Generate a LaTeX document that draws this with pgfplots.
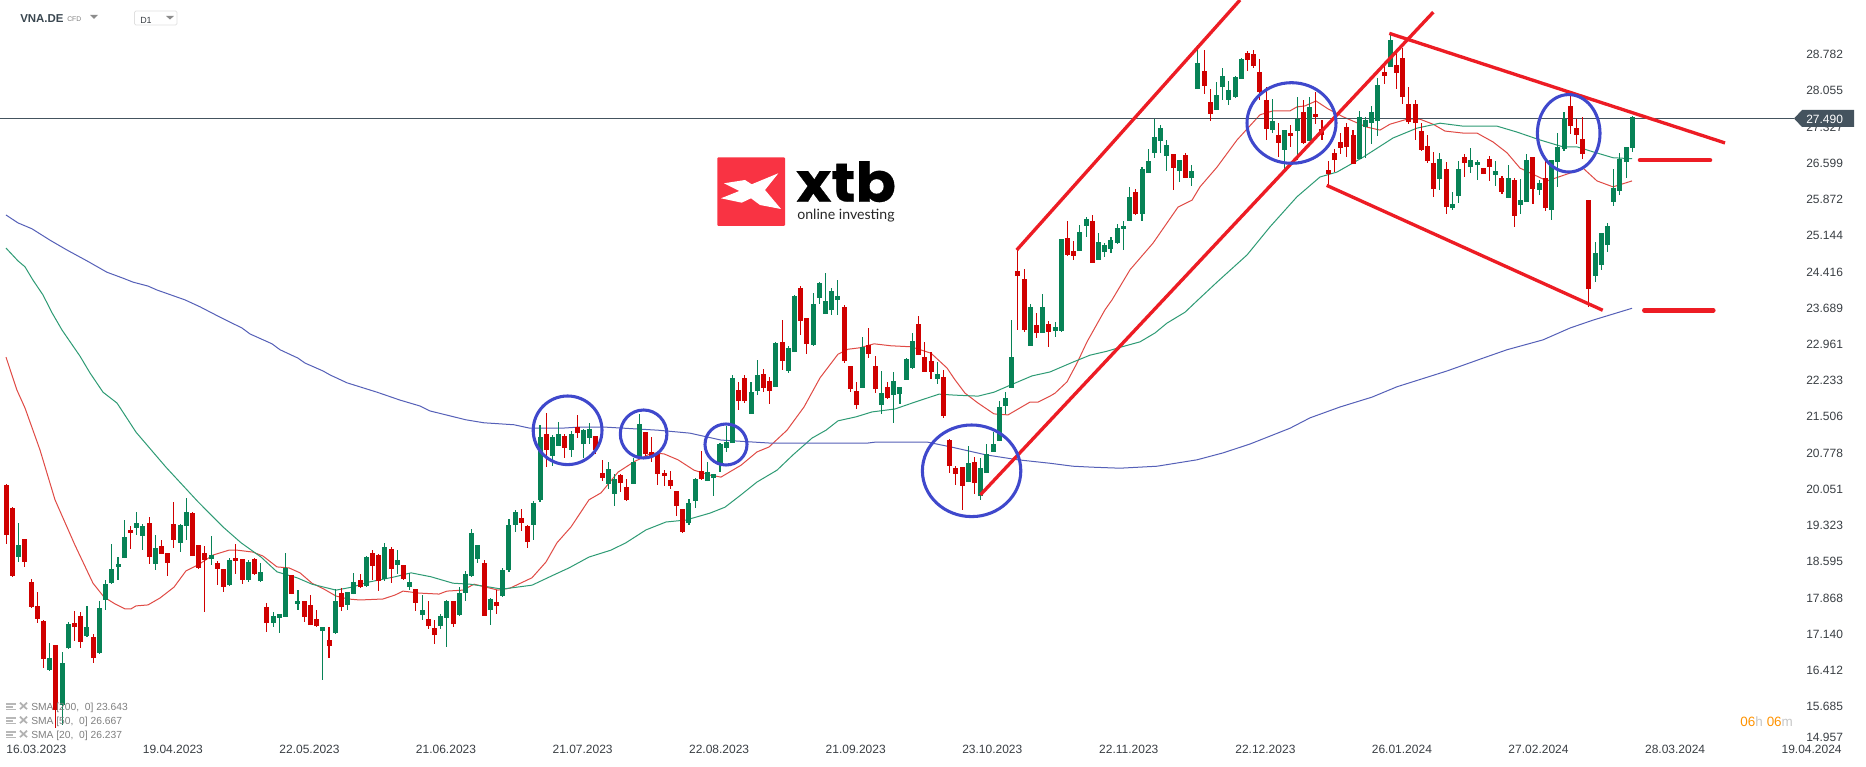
\documentclass[border=0pt]{standalone}
\usepackage{pgfplots}
\usepackage{pgfplotstable}
\usepackage{fontspec}
\usepackage{graphicx}
\pgfplotsset{compat=1.18}
\setmainfont{Liberation Sans}
\newfontfamily\logofont[BoldFeatures={FakeBold=0.5}]{Poppins}
\newfontfamily\logosub{Lato}
\definecolor{cup}{HTML}{078256}
\definecolor{cdn}{HTML}{D00000}
\definecolor{sred}{HTML}{E04A45}
\definecolor{sgreen}{HTML}{2E9B74}
\definecolor{sblue}{HTML}{5560B8}
\definecolor{trend}{HTML}{ED1C24}
\definecolor{ring}{HTML}{3F48CC}
\definecolor{pricebg}{HTML}{44535E}
\definecolor{logored}{HTML}{F93343}
\definecolor{ticktxt}{HTML}{3A3F44}
\definecolor{headtxt}{HTML}{3A4750}
% columns: candle index, high, body top, body bottom, low
\pgfplotstableread{
i h t b l
0 20.09 20.06 19.05 18.86
1 19.62 19.59 18.22 18.19
3 18.96 18.96 18.50 18.40
4 18.15 18.09 17.59 17.56
5 17.89 17.61 17.35 17.26
6 17.33 17.30 16.53 16.35
8 16.82 16.82 15.50 15.14
11 17.50 17.26 17.18 16.90
12 17.48 17.41 16.88 16.76
14 17.04 16.98 16.55 16.45
20 19.23 19.15 19.09 18.76
23 19.41 19.29 18.60 18.45
25 18.95 18.83 18.66 18.66
26 18.68 18.68 18.48 18.22
27 19.72 19.27 18.95 18.79
30 19.51 19.49 18.62 18.62
31 18.84 18.84 18.38 18.37
32 18.82 18.68 18.54 17.49
34 18.52 18.48 18.36 18.03
35 18.36 18.36 18.00 17.89
37 18.86 18.58 18.52 18.26
38 18.56 18.56 18.14 18.06
40 18.58 18.56 18.26 18.24
42 17.67 17.59 17.26 17.08
46 18.24 18.24 17.85 17.85
48 17.71 17.71 17.39 17.29
49 17.83 17.63 17.22 17.22
50 17.53 17.35 17.20 17.18
52 17.18 16.92 16.80 16.56
54 17.97 17.87 17.59 17.51
57 18.26 18.14 17.99 17.97
59 18.74 18.68 18.42 18.14
60 18.66 18.64 18.11 17.91
62 18.80 18.76 18.36 18.07
64 18.44 18.44 18.16 18.14
66 17.95 17.95 17.67 17.51
68 17.71 17.35 17.20 17.14
69 17.33 17.16 17.02 16.84
72 17.71 17.70 17.24 17.18
77 18.54 18.48 17.41 17.41
79 17.93 17.69 17.61 17.45
83 19.57 19.39 19.29 19.13
84 19.25 19.23 18.90 18.78
87 21.52 21.09 20.77 20.42
90 21.09 21.05 20.81 20.61
92 21.48 21.23 21.11 21.01
95 21.05 21.05 20.77 20.69
96 20.57 20.30 20.20 20.14
99 20.28 20.26 20.10 19.92
100 20.18 20.02 19.76 19.74
103 21.13 21.13 20.69 20.65
104 21.03 20.73 20.63 20.53
105 20.70 20.69 20.28 20.06
106 20.36 20.30 20.24 20.04
107 20.34 20.16 20.04 19.98
108 19.94 19.94 19.64 19.43
109 19.57 19.57 19.11 19.10
112 20.75 20.34 20.18 20.16
118 22.14 21.99 21.76 21.58
119 22.28 22.23 21.76 21.72
122 22.41 22.31 22.03 21.94
123 22.25 22.17 21.96 21.70
125 23.40 22.96 22.57 22.39
128 24.09 24.05 23.38 23.10
129 23.44 23.44 22.92 22.71
135 23.71 23.67 22.57 22.53
136 22.47 22.47 22.00 21.94
137 22.15 21.96 21.68 21.60
139 23.24 22.90 22.71 22.63
140 22.67 22.47 22.00 21.92
142 22.15 22.05 21.82 21.80
147 23.48 23.32 22.69 22.69
148 22.96 22.65 22.35 22.35
149 22.75 22.57 22.35 22.21
151 22.39 22.25 21.46 21.42
152 20.99 20.97 20.45 20.30
153 20.45 20.40 20.28 20.06
154 20.42 20.42 20.04 19.55
156 20.63 20.53 20.10 19.88
163 24.82 24.39 24.29 23.20
164 24.44 24.23 23.20 23.16
166 23.54 23.30 23.14 23.04
168 23.38 23.32 23.16 22.86
171 25.41 25.06 24.72 24.70
172 25.00 24.80 24.70 24.62
175 25.53 25.41 24.56 24.56
182 26.06 26.00 25.55 25.53
188 26.77 26.77 26.48 26.04
190 26.79 26.75 26.28 26.28
193 28.87 28.45 28.14 27.98
194 28.08 27.82 27.58 27.43
200 28.85 28.81 28.67 28.45
201 28.87 28.79 28.55 28.51
202 28.69 28.43 28.02 27.86
203 28.12 27.86 27.27 27.05
205 27.39 27.15 26.99 26.71
207 27.35 27.19 27.13 26.91
209 27.86 27.62 26.99 26.97
211 28.02 27.58 27.52 27.37
212 27.45 27.27 27.15 27.05
213 26.62 26.44 26.36 26.14
214 26.87 26.79 26.64 26.40
215 27.19 27.01 26.89 26.77
216 27.39 27.31 26.91 26.71
217 27.25 27.15 26.56 26.56
222 28.55 28.43 28.35 28.18
224 28.81 28.57 28.41 28.08
225 28.91 28.71 27.92 27.78
226 28.12 27.78 27.41 27.37
227 27.86 27.78 27.39 27.05
228 27.39 27.23 26.85 26.83
229 27.15 26.93 26.62 26.58
230 26.81 26.58 26.06 25.90
232 26.60 26.46 25.69 25.55
235 26.77 26.71 26.58 26.30
238 26.48 26.48 26.36 26.36
239 26.73 26.67 26.50 26.22
241 26.32 26.28 26.00 25.96
243 26.28 26.24 25.51 25.29
246 26.71 26.71 26.06 25.75
248 26.64 26.28 25.67 25.61
252 27.96 27.74 27.33 27.17
253 27.48 27.29 27.15 26.97
254 27.52 27.07 26.77 26.67
255 25.83 25.83 24.03 23.67
}\redcandles
\pgfplotstableread{
i h t b l
2 19.28 18.84 18.61 18.50
7 16.85 16.55 16.31 16.30
9 16.68 16.45 15.60 15.20
10 17.29 17.24 16.75 16.74
13 17.60 17.18 17.01 16.99
15 17.70 17.57 16.66 16.65
16 18.14 18.05 17.73 17.53
17 18.86 18.36 18.07 18.05
18 18.61 18.46 18.40 18.14
19 19.35 19.01 18.58 18.58
21 19.51 19.29 19.19 19.05
22 19.27 19.23 19.03 18.74
24 19.05 18.78 18.46 18.34
28 19.27 19.25 18.89 18.70
29 19.80 19.51 19.23 18.95
33 19.03 18.64 18.56 18.44
36 18.58 18.54 18.03 18.01
39 18.54 18.50 18.14 18.09
41 18.48 18.30 18.11 18.09
43 17.49 17.41 17.26 17.18
44 17.45 17.45 17.37 17.06
45 18.68 18.37 17.39 17.39
47 17.93 17.71 17.65 17.53
51 17.18 17.18 17.10 16.11
53 17.95 17.71 17.06 17.04
55 17.89 17.89 17.63 17.53
56 18.28 18.09 17.85 17.85
58 18.62 18.60 18.01 17.99
61 18.89 18.80 18.16 18.11
63 18.74 18.54 18.44 18.26
65 18.28 18.09 17.99 17.93
67 17.83 17.53 17.43 17.33
70 17.45 17.41 17.20 17.14
71 17.73 17.71 17.37 16.78
73 18.00 17.87 17.43 17.42
74 18.32 18.26 17.87 17.71
75 19.17 19.09 18.22 18.20
76 18.84 18.84 18.56 18.48
78 17.77 17.75 17.53 17.22
80 18.38 18.34 17.81 17.79
81 19.37 19.25 18.34 18.30
82 19.55 19.51 19.25 19.11
85 19.74 19.70 19.25 18.95
86 21.28 21.03 19.76 19.72
88 21.07 21.03 20.65 20.45
89 21.34 21.09 20.85 20.85
91 21.15 21.09 20.77 20.63
93 21.19 21.17 20.89 20.61
94 21.32 21.19 21.01 20.89
97 20.53 20.38 20.08 19.98
98 20.28 20.18 19.88 19.64
101 20.61 20.53 20.08 20.08
102 21.50 21.30 20.63 20.61
110 19.78 19.70 19.29 19.25
111 20.20 20.18 19.74 19.59
113 20.53 20.32 20.14 20.14
114 20.28 20.28 20.20 19.84
115 20.91 20.89 20.49 20.32
116 21.25 20.93 20.81 20.73
117 22.28 22.23 20.91 20.91
120 22.14 21.94 21.50 21.50
121 22.59 22.29 21.96 21.88
124 22.96 22.94 22.05 22.05
126 22.88 22.84 22.37 22.33
127 23.91 23.89 22.75 22.75
130 23.95 23.73 22.90 22.88
131 24.17 24.15 23.85 23.73
132 24.35 23.79 23.52 23.52
133 24.05 23.99 23.60 23.50
134 24.21 23.89 23.81 23.50
138 23.05 22.86 22.03 22.03
141 22.37 21.92 21.68 21.50
143 22.35 22.17 21.88 21.32
144 22.05 22.05 21.90 21.70
145 22.63 22.61 22.19 22.19
146 23.14 22.98 22.43 22.41
150 22.55 22.31 22.21 22.11
155 20.85 20.51 20.12 20.12
157 20.61 20.40 19.84 19.76
158 20.89 20.69 20.30 20.30
159 21.13 20.89 20.73 20.73
160 21.76 21.64 20.95 20.95
161 21.94 21.82 21.66 21.50
162 23.40 22.65 22.03 22.03
165 23.73 23.67 22.88 22.88
167 23.93 23.67 23.14 23.14
169 23.36 23.26 23.18 23.06
170 25.04 25.04 23.18 23.16
173 25.33 25.19 24.80 24.80
174 25.49 25.45 25.31 25.08
176 25.17 24.98 24.62 24.62
177 24.96 24.92 24.78 24.68
178 25.08 25.02 24.84 24.76
179 25.35 25.27 24.96 24.94
180 25.41 25.31 25.25 24.82
181 26.10 25.90 25.41 25.41
183 26.50 26.46 25.55 25.41
184 26.87 26.62 26.38 26.38
185 27.48 27.11 26.79 26.69
186 27.35 27.29 27.03 26.79
187 27.05 26.95 26.73 26.42
189 26.64 26.64 26.42 26.20
191 26.54 26.42 26.28 26.12
192 28.97 28.61 28.08 28.08
195 28.22 27.96 27.66 27.66
196 28.51 28.35 28.12 27.86
197 28.25 28.06 27.86 27.76
198 28.35 28.33 27.92 27.90
199 28.71 28.69 28.29 28.29
204 27.88 27.43 27.25 27.19
206 27.25 27.25 26.85 26.46
208 27.92 27.48 27.23 26.64
210 27.92 27.72 27.03 27.03
218 27.64 27.52 26.67 26.67
219 27.52 27.45 27.31 26.69
220 27.74 27.62 27.39 26.97
221 28.31 28.16 27.43 27.13
223 29.22 29.08 28.53 28.53
231 26.79 26.67 26.26 26.04
233 26.00 25.75 25.67 25.63
234 26.62 26.46 25.92 25.77
236 26.89 26.64 26.50 26.38
237 26.64 26.60 26.54 26.24
240 26.62 26.42 26.34 26.12
242 26.54 26.28 25.87 25.87
244 26.26 25.83 25.73 25.55
245 26.77 26.64 25.80 25.80
247 26.24 26.18 26.04 25.94
249 26.64 26.64 25.63 25.43
250 27.19 26.91 26.60 26.10
251 27.62 27.48 26.87 26.83
256 24.98 24.76 24.30 24.17
257 25.17 25.17 24.52 24.42
258 25.37 25.31 24.92 24.78
259 26.46 26.08 25.79 25.71
260 26.79 26.67 26.02 25.94
261 26.91 26.91 26.60 26.28
262 27.54 27.52 26.89 26.81
}\greencandles
\pgfplotstableread{
x y
6 22.65
17 21.98
25 21.62
40 20.77
55 19.76
75 18.84
93 18.07
104 17.79
115 17.65
125 17.55
131 17.55
136 17.61
148 17.63
160 17.77
174 17.99
186 18.32
198 18.44
213 18.64
229 18.74
237 18.74
253 18.70
263 18.62
277 18.40
289 18.38
300 18.28
312 18.07
324 17.95
336 17.81
348 17.75
360 17.73
383 17.75
395 17.83
403 17.91
419 17.87
439 17.85
447 17.91
463 17.93
474 18.05
486 17.99
498 17.93
510 17.97
532 18.18
546 18.50
557 18.89
571 19.21
589 19.76
601 19.90
618 20.32
634 20.53
652 20.71
664 20.69
678 20.57
694 20.36
710 20.26
721 20.22
741 20.46
757 20.73
769 20.83
787 21.17
804 21.64
820 22.23
838 22.71
848 22.81
860 22.84
874 22.92
891 22.88
911 22.86
931 22.73
947 22.43
955 22.19
965 21.92
978 21.72
994 21.50
1008 21.48
1030 21.74
1038 21.74
1050 21.86
1055 21.92
1067 22.15
1077 22.53
1087 22.96
1105 23.61
1112 23.81
1130 24.42
1153 24.96
1178 25.69
1192 25.83
1200 26.10
1217 26.50
1237 27.05
1260 27.56
1273 27.64
1290 27.64
1297 27.72
1305 27.74
1316 27.84
1328 27.68
1343 27.52
1367 27.31
1380 27.25
1390 27.37
1407 27.47
1420 27.47
1433 27.37
1445 27.23
1463 27.19
1477 27.19
1493 27.01
1507 26.79
1520 26.48
1547 26.22
1573 26.40
1583 26.48
1597 26.22
1613 26.10
1632 26.22
}\smatwenty
\pgfplotstableread{
x y
6 24.86
18 24.60
25 24.48
33 24.21
43 23.91
52 23.55
62 23.20
80 22.67
90 22.33
103 21.94
117 21.72
128 21.38
136 21.13
166 20.42
198 19.72
223 19.21
241 18.89
261 18.60
277 18.30
297 18.18
312 18.05
336 17.93
352 17.99
368 18.09
395 18.20
411 18.28
431 18.20
453 18.07
470 18.05
490 17.99
502 17.95
532 18.03
554 18.24
569 18.38
589 18.60
611 18.74
626 18.89
646 19.15
666 19.31
686 19.35
710 19.49
725 19.61
741 19.86
757 20.12
777 20.36
793 20.67
812 21.01
826 21.17
838 21.36
856 21.44
872 21.54
895 21.60
915 21.74
939 21.90
955 21.88
978 21.86
994 21.94
1018 22.15
1032 22.27
1050 22.35
1073 22.55
1090 22.69
1107 22.77
1122 22.86
1140 22.96
1155 23.14
1167 23.34
1185 23.56
1198 23.81
1217 24.17
1247 24.72
1270 25.29
1297 25.90
1320 26.30
1337 26.40
1363 26.70
1393 27.09
1417 27.29
1440 27.39
1463 27.33
1497 27.33
1517 27.21
1540 27.05
1563 26.91
1577 26.91
1593 26.81
1613 26.69
1632 26.67
}\smafifty
\pgfplotstableread{
x y
6 25.53
18 25.37
32 25.25
50 25.02
67 24.82
87 24.60
107 24.37
123 24.25
133 24.17
148 24.09
157 24.01
185 23.81
200 23.67
220 23.46
242 23.24
250 23.12
272 22.92
280 22.80
298 22.63
305 22.53
323 22.37
330 22.29
347 22.13
377 21.94
400 21.78
420 21.66
430 21.56
450 21.46
466 21.38
484 21.32
514 21.28
530 21.21
561 21.21
577 21.23
607 21.23
658 21.17
690 21.11
721 20.97
769 20.91
868 20.91
876 20.93
927 20.93
951 20.83
986 20.67
1018 20.57
1050 20.50
1073 20.44
1093 20.42
1120 20.40
1157 20.44
1197 20.57
1223 20.71
1250 20.89
1270 21.05
1290 21.21
1310 21.42
1340 21.64
1372 21.84
1397 22.05
1447 22.37
1483 22.63
1507 22.80
1543 23.00
1570 23.24
1593 23.40
1632 23.64
}\smatwohundred
\begin{document}
\begin{tikzpicture}
\path[use as bounding box, fill=white] (0,-16.5pt) rectangle (1399.5pt,558.75pt);
\begin{axis}[
  at={(0,0)}, anchor=south west,
  scale only axis, width=1361.25pt, height=558.75pt,
  xmin=0, xmax=1815, ymin=14.792, ymax=29.886,
  axis line style={draw=none},
  major tick length=0pt,
  xtick pos=bottom, ytick pos=right,
  xtick={36.4,172.9,309.5,446,582.6,719.1,855.7,992.3,1128.8,1265.4,1401.9,1538.5,1675.1,1811.6},
  xticklabels={16.03.2023,19.04.2023,22.05.2023,21.06.2023,21.07.2023,22.08.2023,21.09.2023,23.10.2023,22.11.2023,22.12.2023,26.01.2024,27.02.2024,28.03.2024,19.04.2024},
  ytick={28.782,28.048,27.313,26.579,25.845,25.111,24.376,23.642,22.908,22.174,21.440,20.705,19.971,19.237,18.503,17.768,17.034,16.300,15.566,14.948},
  yticklabels={28.782,28.055,27.327,26.599,25.872,25.144,24.416,23.689,22.961,22.233,21.506,20.778,20.051,19.323,18.595,17.868,17.140,16.412,15.685,14.957},
  tick label style={font=\fontsize{9}{9}\selectfont, text=ticktxt, inner sep=0pt},
  yticklabel style={anchor=west, xshift=-6.75pt},
  xticklabel style={anchor=north, yshift=0.2pt},
  every tick/.style={draw=none},
]
% moving averages
\addplot[sred, line width=0.75pt, forget plot] table[x=x,y=y] {\smatwenty};
\addplot[sgreen, line width=0.75pt, forget plot] table[x=x,y=y] {\smafifty};
\addplot[sblue, line width=0.75pt, forget plot] table[x=x,y=y] {\smatwohundred};
% last price line
\addplot[pricebg, line width=0.75pt, forget plot] coordinates {(0,27.49) (1794,27.49)};
% candle wicks
\addplot[draw=none, mark=none, forget plot, error bars/.cd, y dir=both, y explicit, error mark=none,
  error bar style={draw=cdn, line width=0.8pt}]
  table[x expr={6.3+6.206*\thisrow{i}}, y=b, y error plus expr={\thisrow{h}-\thisrow{b}}, y error minus expr={\thisrow{b}-\thisrow{l}}] {\redcandles};
\addplot[draw=none, mark=none, forget plot, error bars/.cd, y dir=both, y explicit, error mark=none,
  error bar style={draw=cup, line width=0.8pt}]
  table[x expr={6.3+6.206*\thisrow{i}}, y=b, y error plus expr={\thisrow{h}-\thisrow{b}}, y error minus expr={\thisrow{b}-\thisrow{l}}] {\greencandles};
% candle bodies
\addplot[draw=none, mark=none, forget plot, error bars/.cd, y dir=plus, y explicit, error mark=none,
  error bar style={draw=cdn, line width=3.75pt}]
  table[x expr={6.3+6.206*\thisrow{i}}, y=b, y error plus expr={\thisrow{t}-\thisrow{b}}] {\redcandles};
\addplot[draw=none, mark=none, forget plot, error bars/.cd, y dir=plus, y explicit, error mark=none,
  error bar style={draw=cup, line width=3.75pt}]
  table[x expr={6.3+6.206*\thisrow{i}}, y=b, y error plus expr={\thisrow{t}-\thisrow{b}}] {\greencandles};
% trend lines
\addplot[trend, line width=2.5pt, forget plot] coordinates {(1016.7,24.82) (1240,29.886)};
\addplot[trend, line width=2.5pt, forget plot] coordinates {(980.4,19.86) (1433.3,29.64)};
\addplot[trend, line width=2.5pt, forget plot] coordinates {(1389.3,29.21) (1725,26.99)};
\addplot[trend, line width=2.5pt, forget plot] coordinates {(1326.7,26.13) (1602.7,23.60)};
\addplot[trend, line width=3.4pt, line cap=round, forget plot] coordinates {(1640,26.64) (1710,26.64)};
\addplot[trend, line width=3.4pt, line cap=round, forget plot] coordinates {(1644.3,23.60) (1713.3,23.60)};
\end{axis}
\begin{scope}[x=0.75pt,y=-0.75pt,yshift=558.75pt]
% circles
\draw[ring, line width=2.3pt] (567.6,430.3) ellipse [x radius=34.4, y radius=34.3];
\draw[ring, line width=2.3pt] (643.6,434) ellipse [x radius=23.3, y radius=24];
\draw[ring, line width=2.3pt] (726,444.5) ellipse [x radius=21, y radius=20.5];
\draw[ring, line width=2.3pt] (971.6,470.8) ellipse [x radius=49.2, y radius=45.8];
\draw[ring, line width=2.3pt] (1291.5,123) ellipse [x radius=44.5, y radius=40.3];
\draw[ring, line width=2.3pt] (1568.7,133.3) ellipse [x radius=31.3, y radius=38.7];
% last price flag
\fill[pricebg] (1794,118.5) -- (1802,110) -- (1854,110) -- (1854,127) -- (1802,127) -- cycle;
\node[anchor=base west, inner sep=0pt, text=white, font=\fontsize{9}{9}\selectfont] at (1806,123.5) {27.490};
% logo
\fill[logored, rounded corners=0.8pt] (717.3,157.3) rectangle (785,226);
\fill[white] (721,198.3) -- (739.3,191) -- (724,183.3) -- (745,180) -- (751.7,184.3) -- (778.3,173.3) -- (765,190) -- (781,209) -- (760,205) -- (751,198.3) -- (741.7,202.7) -- cycle;
\node[anchor=base west, inner sep=0pt, text=black, font=\logofont\fontsize{41}{41}\selectfont\bfseries] at (796,201.7) {\scalebox{1.09}[1]{xtb}};
\node[anchor=base west, inner sep=0pt, text=black!85, font=\logosub\fontsize{10.6}{11}\selectfont] at (797,219.5) {online investing};
% header
\node[anchor=base west, inner sep=0pt, text=headtxt, font=\fontsize{8.6}{9}\selectfont\bfseries] at (20,23) {VNA.DE};
\node[anchor=base west, inner sep=0pt, text=black!50, font=\fontsize{5.1}{6}\selectfont] at (67,22) {CFD};
\fill[black!45] (90,15) -- (98,15) -- (94,19) -- cycle;
\draw[black!12, line width=0.6pt, rounded corners=1pt] (134.5,11) rectangle (177,25);
\node[anchor=base west, inner sep=0pt, text=ticktxt, font=\fontsize{6.7}{7}\selectfont] at (140,24) {D1};
\fill[black!45] (166,16) -- (174,16) -- (170,19.5) -- cycle;
% indicator list
\foreach \yy/\tt in {707.7/{SMA [200,~ 0] 23.643},721.7/{SMA [50,~ 0] 26.667},735.7/{SMA [20,~ 0] 26.237}}{
  \node[anchor=west, inner sep=0pt, text=black!50, font=\fontsize{7.7}{8}\selectfont] at (31,\yy) {\tt};
  \fill[black!28] (6,\yy-5) rectangle (16,\yy-2.5);
  \fill[black!28] (6,\yy-1.5) rectangle (13,\yy);
  \fill[black!28] (6,\yy+1) rectangle (16,\yy+2.5);
  \draw[black!30, line width=1.3pt] (20,\yy-5) -- (27,\yy+1.5) (27,\yy-5) -- (20,\yy+1.5);
}
% countdown
\node[anchor=base west, inner sep=0pt, font=\fontsize{10.1}{11}\selectfont] at (1740,727) {\textcolor{orange!85!yellow}{06}\textcolor{black!22}{h}\hspace{3pt}\textcolor{orange!85!yellow}{06}\textcolor{black!22}{m}};
\end{scope}
\end{tikzpicture}
\end{document}
